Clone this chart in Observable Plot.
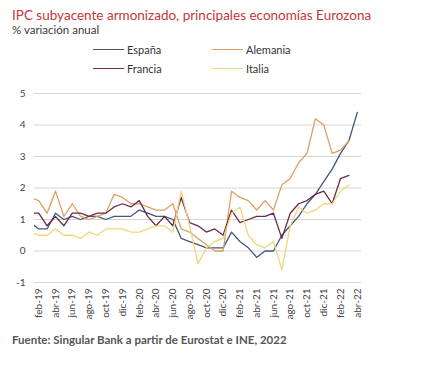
<!DOCTYPE html>
<html>
<head>
<meta charset="utf-8">
<script src="https://cdn.jsdelivr.net/npm/d3@7"></script>
<script src="https://cdn.jsdelivr.net/npm/@observablehq/plot@0.6"></script>
<style>
  html, body { margin: 0; padding: 0; background: #fff; }
  body { width: 421px; height: 378px; position: relative; overflow: hidden; font-family: Lato, "Open Sans", sans-serif; }
  .abs { position: absolute; white-space: nowrap; }
  #title { left: 12px; top: 7px; font-size: 13.5px; color: #c4373a; }
  #subtitle { left: 12px; top: 23px; font-size: 11.5px; color: #3a3a3a; }
  #footer { left: 12px; top: 333px; font-size: 11.5px; font-weight: bold; color: #555; }
  .leg { font-size: 11px; color: #333; display: flex; align-items: center; }
  .sw { display: inline-block; width: 31px; height: 0; border-top: 1.3px solid; margin-right: 3px; }
  #chart { position: absolute; left: 0; top: 80px; }
</style>
</head>
<body>
<div id="title" class="abs">IPC subyacente armonizado, principales economías Eurozona</div>
<div id="subtitle" class="abs">% variación anual</div>
<div id="legend"></div>
<div id="chart"></div>
<div id="footer" class="abs">Fuente: Singular Bank a partir de Eurostat e INE, 2022</div>
<script>
// Months (ene-19 is just left of the visible axis; the line is clipped at the frame edge)
const months = [
  "ene-19","feb-19","mar-19","abr-19","may-19","jun-19","jul-19","ago-19","sep-19","oct-19","nov-19","dic-19",
  "ene-20","feb-20","mar-20","abr-20","may-20","jun-20","jul-20","ago-20","sep-20","oct-20","nov-20","dic-20",
  "ene-21","feb-21","mar-21","abr-21","may-21","jun-21","jul-21","ago-21","sep-21","oct-21","nov-21","dic-21",
  "ene-22","feb-22","mar-22","abr-22"
];
const tickLabels = ["feb-19","abr-19","jun-19","ago-19","oct-19","dic-19","feb-20","abr-20","jun-20","ago-20",
  "oct-20","dic-20","feb-21","abr-21","jun-21","ago-21","oct-21","dic-21","feb-22","abr-22"];

const espana = [0.9,0.7,0.7,1.2,1.0,1.1,1.0,1.1,1.1,1.0,1.1,1.1,
  1.1,1.3,1.2,1.1,1.1,1.0,0.4,0.3,0.2,0.1,0.1,0.1,
  0.6,0.3,0.1,-0.2,0.0,0.0,0.5,0.8,1.1,1.5,1.8,2.2,
  2.6,3.1,3.5,4.4];
const alemania = [1.7,1.6,1.2,1.9,1.1,1.5,1.1,1.0,1.1,1.2,1.8,1.7,
  1.5,1.5,1.4,1.3,1.3,1.5,0.7,0.6,0.4,0.2,0.0,0.0,
  1.9,1.7,1.6,1.3,1.6,1.3,2.1,2.3,2.8,3.1,4.2,4.0,
  3.1,3.2,3.5];
const francia = [1.2,1.2,0.8,1.1,0.8,1.2,1.2,1.1,1.2,1.2,1.4,1.5,
  1.4,1.6,1.1,0.8,1.1,0.8,1.7,0.9,0.8,0.6,0.7,0.5,
  1.3,0.9,1.0,1.1,1.1,1.2,0.4,1.2,1.5,1.6,1.8,1.9,
  1.5,2.3,2.4];
const italia = [0.6,0.5,0.5,0.7,0.5,0.5,0.4,0.6,0.5,0.7,0.7,0.7,
  0.6,0.6,0.7,0.8,0.8,0.6,1.9,0.8,-0.4,0.1,0.3,0.4,
  1.2,1.4,0.5,0.2,0.1,0.3,-0.6,0.8,1.4,1.2,1.3,1.5,
  1.5,1.9,2.1];

const seriesNames = ["España","Alemania","Francia","Italia"];
const seriesValues = [espana, alemania, francia, italia];
const colors = ["#41587a","#dba061","#6a2a48","#f0d77b"];
const yTicks = [-1,0,1,2,3,4,5];

const rows = [];
seriesValues.forEach((vals, s) => vals.forEach((v, k) => rows.push({serie: seriesNames[s], k, mes: months[k], v})));

const tickPos = tickLabels.map(l => months.indexOf(l));

// Legend
const legendPos = [
  {left: 93, top: 43}, {left: 212, top: 43},
  {left: 93, top: 62}, {left: 212, top: 62}
];
const legend = document.getElementById("legend");
seriesNames.forEach((n, s) => {
  const d = document.createElement("div");
  d.className = "abs leg";
  d.style.left = legendPos[s].left + "px";
  d.style.top = legendPos[s].top + "px";
  d.innerHTML = `<span class="sw" style="border-color:${colors[s]}"></span><span>${n}</span>`;
  legend.appendChild(d);
});

const chart = Plot.plot({
  width: 421,
  height: 245,
  marginTop: 13,
  marginBottom: 43,
  marginLeft: 34,
  marginRight: 60,
  style: {fontFamily: "Lato, 'Open Sans', sans-serif", fontSize: "10px", color: "#444", background: "#fff"},
  x: {domain: [0.5, months.length - 0.5]},
  y: {domain: [-1, 5]},
  color: {domain: seriesNames, range: colors},
  marks: [
    Plot.gridY(yTicks, {stroke: "#d6d6d6", strokeOpacity: 1, strokeWidth: 1}),
    Plot.axisY(yTicks, {tickSize: 0, tickPadding: 9, tickFormat: d => d, label: null, fill: "#444"}),
    Plot.axisX(tickPos, {tickSize: 0, tickPadding: 6, tickRotate: -90, tickFormat: k => months[k], label: null, fill: "#444"}),
    Plot.line(rows, {x: "k", y: "v", z: "serie", stroke: "serie", strokeWidth: 1.3, clip: true})
  ]
});
document.getElementById("chart").appendChild(chart);
</script>
</body>
</html>
